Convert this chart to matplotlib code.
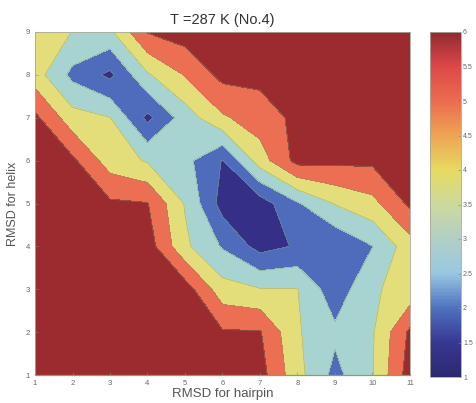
import numpy as np
import matplotlib
matplotlib.use("Agg")
import matplotlib.pyplot as plt
from matplotlib.colors import LinearSegmentedColormap, Normalize
from matplotlib.cm import ScalarMappable

plt.rcParams['font.family'] = ['Liberation Sans', 'DejaVu Sans']

# grid coordinates
rmsd_hairpin = [1, 2, 3, 4, 5, 6, 7, 8, 9, 10, 11]
rmsd_helix = [1, 2, 3, 4, 5, 6, 7, 8, 9]

# free-energy values, rows listed from helix RMSD 9 (top) down to 1 (bottom)
row_y9 = [4.00, 3.48, 3.30, 5.55, 6.00, 6.00, 6.00, 6.00, 6.00, 6.00, 6.00]
row_y8 = [3.95, 2.23, 1.27, 3.38, 4.55, 5.79, 5.78, 6.00, 6.00, 6.00, 6.00]
row_y7 = [5.73, 3.90, 3.52, 1.25, 2.97, 4.36, 5.00, 5.75, 6.00, 6.00, 6.00]
row_y6 = [6.00, 5.70, 4.00, 3.40, 2.80, 1.45, 4.00, 5.85, 5.76, 5.70, 6.00]
row_y5 = [6.00, 6.00, 5.67, 5.55, 3.43, 1.10, 1.00, 2.40, 3.55, 4.20, 5.70]
row_y4 = [6.00, 6.00, 6.00, 6.00, 3.70, 2.40, 1.13, 1.60, 1.60, 2.48, 4.06]
row_y3 = [6.00, 6.00, 6.00, 6.00, 6.00, 3.90, 3.55, 3.52, 1.87, 3.40, 3.80]
row_y2 = [6.00, 6.00, 6.00, 6.00, 6.00, 5.60, 5.58, 3.60, 2.70, 3.40, 5.70]
row_y1 = [6.00, 6.00, 6.00, 6.00, 6.00, 6.00, 5.90, 3.83, 2.20, 3.45, 6.00]

levels = [0.5, 1.5, 2.5, 3.5, 4.5, 5.5, 6.5]
cbar_ticks = [1, 1.5, 2, 2.5, 3, 3.5, 4, 4.5, 5, 5.5, 6]
cbar_ticklabels = ['1', '1.5', '2', '2.5', '3', '3.5', '4', '4.5', '5', '5.5', '6']

band_colors = ['#352f88', '#4f6bbb', '#a7d3d1', '#e4de7a', '#ec6e53', '#9b2b2e']
bar_colors = ['#2c2870', '#383892', '#4f72bf', '#98c8e2', '#b2cfc6', '#cdd99c',
              '#e6da62', '#eea455', '#ec6c50', '#de4848', '#922a32']

Z = np.array([row_y1, row_y2, row_y3, row_y4, row_y5, row_y6, row_y7, row_y8, row_y9])
X, Y = np.meshgrid(rmsd_hairpin, rmsd_helix)

fig = plt.figure(figsize=(4.76, 4.03), dpi=100)
ax = fig.add_axes([35/476, 1-375/403, 375/476, 343/403])
ax.contourf(X, Y, Z, levels=levels, colors=band_colors)
ax.contour(X, Y, Z, levels=levels[1:-1], colors='#7f9a62', linewidths=0.4, alpha=0.7)

ax.set_xlim(1, 11)
ax.set_ylim(1, 9)
ax.set_xticks(rmsd_hairpin)
ax.set_yticks(rmsd_helix)
ax.tick_params(direction='in', length=2, width=0.4, colors='#888888',
               labelsize=5.5, labelcolor='#666666', pad=3.5)
for s in ax.spines.values():
    s.set_color('#a8aa9a')
    s.set_linewidth(0.6)
ax.spines['bottom'].set_color('#7fa65a')
ax.spines['bottom'].set_linewidth(0.9)

ax.set_title('T =287 K (No.4)', fontsize=10.5, color='#333333', pad=6)
ax.set_xlabel('RMSD for hairpin', fontsize=9.5, color='#555555', labelpad=1)
ax.set_ylabel('RMSD for helix', fontsize=9, color='#555555', labelpad=5)

cax = fig.add_axes([430/476, 1-377/403, 31/476, 345/403])
cmap = LinearSegmentedColormap.from_list('bar', bar_colors)
sm = ScalarMappable(norm=Normalize(vmin=1, vmax=6), cmap=cmap)
cb = fig.colorbar(sm, cax=cax, ticks=cbar_ticks)
cb.ax.set_yticklabels(cbar_ticklabels)
cb.ax.tick_params(direction='in', length=2, width=0.4, colors='#888888',
                  labelsize=5, labelcolor='#666666', pad=1.5)
cb.outline.set_edgecolor('#a8aa9a')
cb.outline.set_linewidth(0.6)

fig.savefig('out.png', dpi=100)
